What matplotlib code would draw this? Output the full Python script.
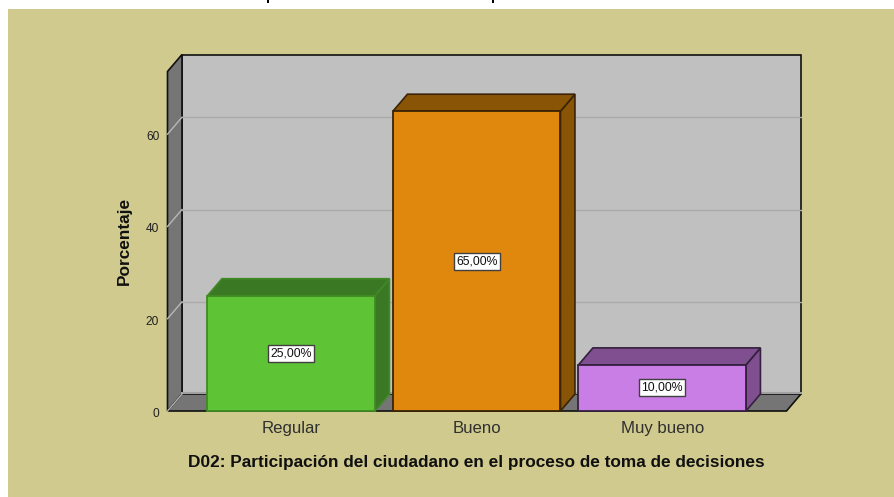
# SPSS style 3D bar chart, percentage per category

import matplotlib.pyplot as plt
from matplotlib.patches import Polygon, Rectangle
from matplotlib.transforms import ScaledTranslation

plt.rcParams['font.family'] = ['Liberation Sans', 'DejaVu Sans']

categories = ['Regular', 'Bueno', 'Muy bueno']
percentages = [25, 65, 10]
value_labels = ['25,00%', '65,00%', '10,00%']
y_ticks = [0, 20, 40, 60]

front_colors = ['#5EC435', '#E0880E', '#C97EE5']
side_colors = ['#3B7823', '#8A5407', '#7F4F8F']
edge_colors = ['#3F8A25', '#3A2405', '#35203F']

bar_width = 0.903
depth_x = 0.078  # depth offset in category units
depth_y = 3.68   # depth offset in percent units
x_min, x_max = -0.667, 2.67
y_max = 73.6

W, H = 895, 497
fig = plt.figure(figsize=(W / 100, H / 100), dpi=100, facecolor='white')

# Beige chart background, has to sit under the axes
fig.add_artist(Rectangle((8 / W, 0), 1 - 8 / W, 1 - 8.5 / H, transform=fig.transFigure,
                         facecolor='#D0CA8E', edgecolor='none', zorder=-2))
# Leftover marks from the cropped page above the chart
for px in [267, 492]:
    fig.add_artist(Rectangle((px / W, 1 - 3 / H), 2 / W, 3 / H, transform=fig.transFigure,
                             facecolor='black', edgecolor='none', zorder=-2))

ax = fig.add_axes([167.5 / W, 1 - 411 / H, (786.5 - 167.5) / W, (411 - 71.5) / H])
ax.set_xlim(x_min, x_max)
ax.set_ylim(0, y_max)
ax.patch.set_visible(False)
for spine in ax.spines.values():
    spine.set_visible(False)


def poly(points, face, edge, lw=1.2, z=1):
    ax.add_patch(Polygon(points, closed=True, facecolor=face, edgecolor=edge,
                         linewidth=lw, zorder=z, clip_on=False, joinstyle='miter'))


# Back wall, side wall and floor
poly([(x_min + depth_x, depth_y), (x_max + depth_x, depth_y),
      (x_max + depth_x, y_max + depth_y), (x_min + depth_x, y_max + depth_y)], '#C0C0C0', '#101010')
poly([(x_min, 0), (x_min + depth_x, depth_y), (x_min + depth_x, y_max + depth_y), (x_min, y_max)],
     '#757575', '#101010')
poly([(x_min, 0), (x_max, 0), (x_max + depth_x, depth_y), (x_min + depth_x, depth_y)],
     '#757575', '#101010', z=2)
ax.plot([x_min + depth_x, x_max + depth_x], [depth_y + 0.25, depth_y + 0.25],
        color='#A0A0A0', lw=1.5, zorder=2, clip_on=False)

# Gridlines on the back wall and down the side wall
for tick in y_ticks:
    if tick > 0:
        ax.plot([x_min + depth_x, x_max + depth_x], [tick + depth_y, tick + depth_y],
                color='#ABABAB', lw=1, zorder=2, clip_on=False)
    ax.plot([x_min, x_min + depth_x], [tick, tick + depth_y], color='#B8B8B8', lw=1,
            zorder=2, clip_on=False)

# Bars
for i, value in enumerate(percentages):
    left = i - bar_width / 2
    right = i + bar_width / 2
    edge = edge_colors[i]
    poly([(right, 0), (right + depth_x, depth_y), (right + depth_x, value + depth_y), (right, value)],
         side_colors[i], edge, z=3)
    poly([(left, value), (right, value), (right + depth_x, value + depth_y), (left + depth_x, value + depth_y)],
         side_colors[i], edge, z=3)
    ax.add_patch(Rectangle((left, 0), bar_width, value, facecolor=front_colors[i], edgecolor=edge,
                           linewidth=1.3, zorder=4, clip_on=False))
    ax.text(i, value / 2, value_labels[i], ha='center', va='center', fontsize=8.8, color='#101010', zorder=5,
            bbox=dict(boxstyle='square,pad=0.2', facecolor='white', edgecolor='#404040', linewidth=1.0))

ax.set_xticks(range(len(categories)))
ax.set_xticklabels(categories, fontsize=12.1, color='#303030')
ax.set_yticks(y_ticks)
ax.set_yticklabels([str(t) for t in y_ticks], fontsize=8.6, color='#202020')
ax.tick_params(axis='x', length=0, pad=7)
ax.tick_params(axis='y', length=0, pad=6)

# y labels sit a little below their gridline start
nudge = ScaledTranslation(0, -1.5 / 100, fig.dpi_scale_trans)
for label in ax.get_yticklabels():
    label.set_transform(label.get_transform() + nudge)

fig.text(476 / W, 1 - 463 / H, 'D02: Participación del ciudadano en el proceso de toma de decisiones',
         ha='center', va='center', fontsize=12.4, fontweight='bold', color='#101010')
fig.text(124 / W, 1 - 241 / H, 'Porcentaje', ha='center', va='center', rotation=90,
         fontsize=12.4, fontweight='bold', color='#101010')

fig.savefig('out.png', dpi=100, facecolor='white')
